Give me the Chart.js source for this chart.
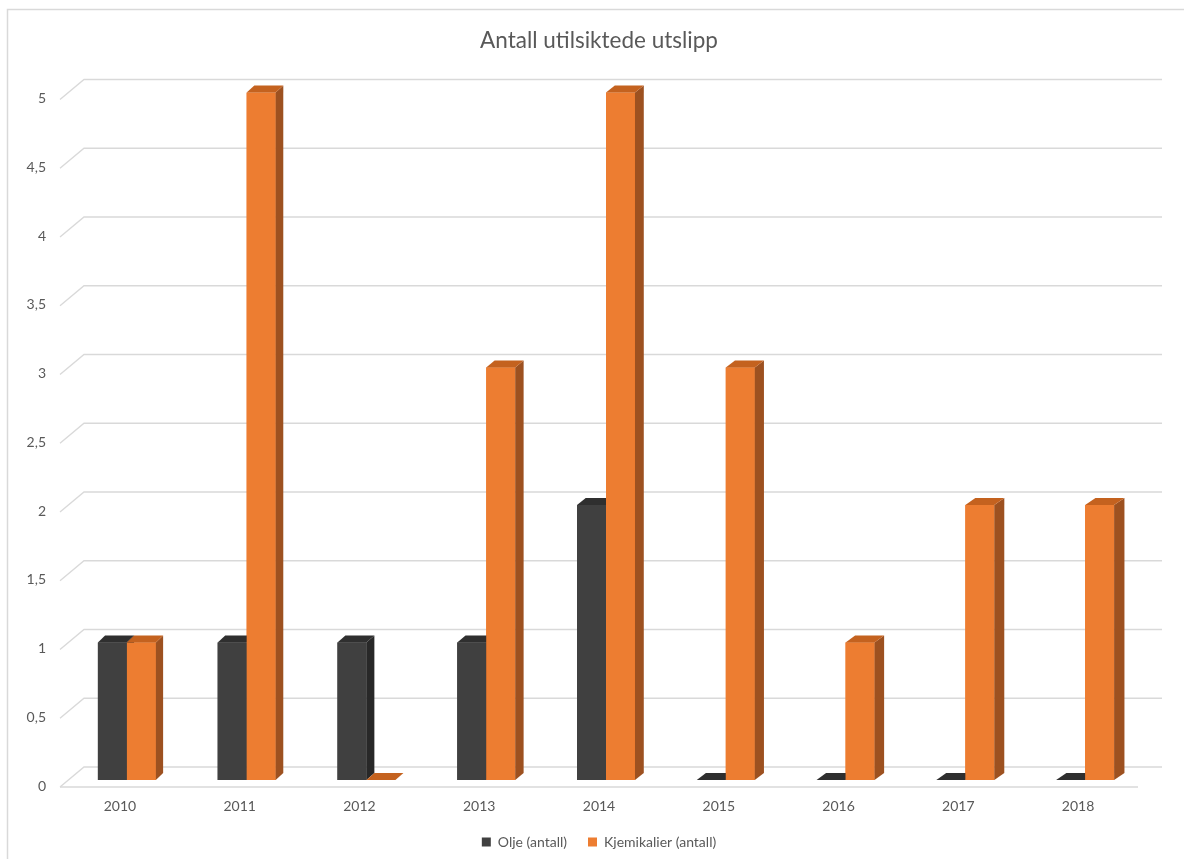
<!DOCTYPE html>
<html>
<head>
<meta charset="utf-8">
<title>Antall utilsiktede utslipp</title>
<script src="https://cdn.jsdelivr.net/npm/chart.js@4.4.0/dist/chart.umd.min.js"></script>
<style>
  html, body { margin: 0; padding: 0; background: #ffffff; }
  #wrap { width: 1184px; height: 859px; position: relative; }
</style>
</head>
<body>
<div id="wrap"><canvas id="chart" width="1184" height="859"></canvas></div>
<script>
// Chart data
const years = ['2010', '2011', '2012', '2013', '2014', '2015', '2016', '2017', '2018'];
const oljeValues = [1, 1, 1, 1, 2, 0, 0, 0, 0];
const kjemikalierValues = [1, 5, 0, 3, 5, 3, 1, 2, 2];
const yTicks = [0, 0.5, 1, 1.5, 2, 2.5, 3, 3.5, 4, 4.5, 5];
const seriesNames = ['Olje (antall)', 'Kjemikalier (antall)'];
const chartTitle = 'Antall utilsiktede utslipp';

// Styling
const FONT = 'Lato, "Open Sans", sans-serif';
const TEXT = '#595959';
const GRID = '#d9d9d9';
const faces = [
  { front: '#404040', top: '#2f2f2f', side: '#282828' },
  { front: '#ed7d31', top: '#c4621f', side: '#9d5120' }
];
// Offsets of the back wall and front floor edge relative to the bar plane
const BACK = { dx: 17, dy: -13 };
const FRONT = { dx: -7, dy: 7 };

// Draws the back wall, side wall, floor and the 3D faces of the columns
const depthPlugin = {
  id: 'depthPlugin',
  beforeDatasetsDraw(chart) {
    const { ctx, chartArea: a, scales: { y } } = chart;
    ctx.save();
    ctx.strokeStyle = GRID;
    ctx.lineWidth = 1.3;
    yTicks.forEach(v => {
      const yp = y.getPixelForValue(v);
      ctx.beginPath();
      ctx.moveTo(a.left + FRONT.dx, yp + FRONT.dy);
      ctx.lineTo(a.left + BACK.dx, yp + BACK.dy);
      ctx.lineTo(a.right + BACK.dx, yp + BACK.dy);
      ctx.stroke();
    });
    const y0 = y.getPixelForValue(0);
    ctx.beginPath();
    ctx.moveTo(a.left + FRONT.dx, y0 + FRONT.dy);
    ctx.lineTo(a.right + FRONT.dx, y0 + FRONT.dy);
    ctx.stroke();
    ctx.restore();
  },
  afterDatasetsDraw(chart) {
    const { ctx, chartArea: a } = chart;
    ctx.save();
    for (let i = 0; i < years.length; i++) {
      chart.data.datasets.forEach((ds, d) => {
        const el = chart.getDatasetMeta(d).data[i];
        const { x, y, base, width } = el.getProps(['x', 'y', 'base', 'width'], true);
        const left = x - width / 2;
        const right = x + width / 2;
        const dx = 7 + 3.5 * (x - a.left) / a.width;
        const dy = -7;
        const f = faces[d];
        if (base - y > 0) {
          ctx.fillStyle = f.front;
          ctx.fillRect(left, y, width, base - y);
          ctx.fillStyle = f.side;
          ctx.beginPath();
          ctx.moveTo(right, y);
          ctx.lineTo(right + dx, y + dy);
          ctx.lineTo(right + dx, base + dy);
          ctx.lineTo(right, base);
          ctx.closePath();
          ctx.fill();
        }
        ctx.fillStyle = f.top;
        ctx.beginPath();
        ctx.moveTo(left, y);
        ctx.lineTo(right, y);
        ctx.lineTo(right + dx, y + dy);
        ctx.lineTo(left + dx, y + dy);
        ctx.closePath();
        ctx.fill();
      });
    }
    ctx.restore();
  },
  beforeDraw(chart) {
    const { ctx } = chart;
    ctx.save();
    ctx.fillStyle = '#ffffff';
    ctx.fillRect(0, 0, chart.width, chart.height);
    ctx.strokeStyle = GRID;
    ctx.lineWidth = 1.5;
    ctx.beginPath();
    ctx.moveTo(7.5, chart.height + 5);
    ctx.lineTo(7.5, 9.5);
    ctx.lineTo(chart.width + 5, 9.5);
    ctx.stroke();
    ctx.restore();
  }
};

new Chart(document.getElementById('chart'), {
  type: 'bar',
  data: {
    labels: years,
    datasets: [
      { label: seriesNames[0], data: oljeValues, backgroundColor: faces[0].front, borderWidth: 0 },
      { label: seriesNames[1], data: kjemikalierValues, backgroundColor: faces[1].front, borderWidth: 0 }
    ]
  },
  options: {
    responsive: false,
    animation: false,
    devicePixelRatio: 1,
    layout: { padding: { left: 53, right: 39, top: 0, bottom: 0 } },
    datasets: { bar: { categoryPercentage: 0.484, barPercentage: 1 } },
    scales: {
      x: {
        grid: { display: false, drawTicks: false },
        border: { display: false },
        ticks: { color: TEXT, font: { family: FONT, size: 14 }, padding: 18, labelOffset: -7, maxRotation: 0 },
        afterFit(scale) { scale.height = 34; }
      },
      y: {
        min: 0,
        max: 5,
        grid: { display: false, drawTicks: false },
        border: { display: false },
        afterBuildTicks(scale) { scale.ticks = yTicks.map(v => ({ value: v })); },
        ticks: {
          color: TEXT,
          font: { family: FONT, size: 14 },
          padding: 21,
          labelOffset: 6,
          callback: v => String(v).replace('.', ',')
        },
        afterFit(scale) {
          // narrow axis box; labels extend into the left margin, so no clipping
          scale.width = 14;
          scale._computeLabelArea = () => null;
        }
      }
    },
    plugins: {
      title: {
        display: true,
        text: chartTitle,
        color: TEXT,
        font: { family: FONT, size: 22.5, weight: 'normal', lineHeight: 1.2 },
        padding: { top: 27, bottom: 38.5 }
      },
      legend: {
        position: 'bottom',
        labels: {
          color: TEXT,
          font: { family: FONT, size: 14 },
          boxWidth: 9,
          boxHeight: 9,
          padding: 21
        }
      },
      tooltip: { enabled: false }
    }
  },
  plugins: [depthPlugin]
});
</script>
</body>
</html>
